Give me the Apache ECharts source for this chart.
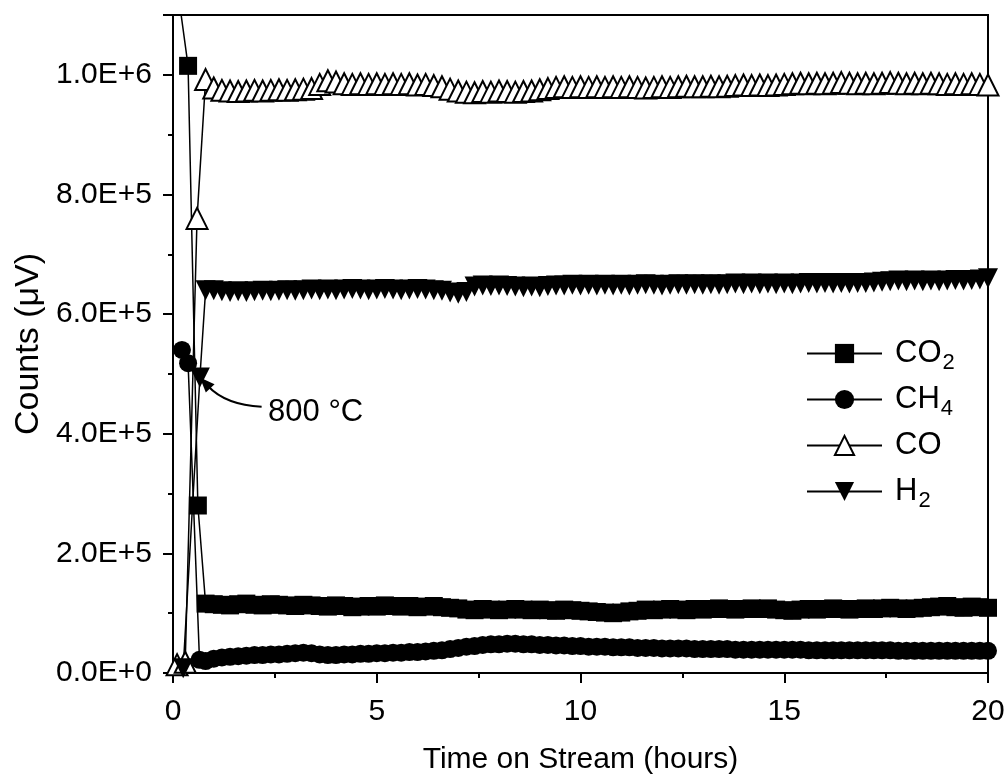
<!DOCTYPE html>
<html><head><meta charset="utf-8">
<script src="https://cdn.jsdelivr.net/npm/echarts@6/dist/echarts.min.js"></script>
<style>html,body{margin:0;padding:0;background:#fff}#c{width:1006px;height:780px}</style>
</head><body><div id="c"></div>
<script>
// ---- data (counts in thousands of µV) ----
const seriesNames = ['CO2', 'CH4', 'CO', 'H2'];
const xAxisTitle = 'Time on Stream (hours)';
const yAxisTitle = 'Counts (\u03bcV)';
const annoText = '800 \u00b0C';
const annoAt = [3.5, 435];
const arrowTip = [0.66, 494];

const tPlateau = [1.0,1.2,1.4,1.6,1.8,2.0,2.2,2.4,2.6,2.8,3.0,3.2,3.4,3.6,3.8,4.0,4.2,4.4,4.6,4.8,
  5.0,5.2,5.4,5.6,5.8,6.0,6.2,6.4,6.6,6.8,7.0,7.2,7.4,7.6,7.8,8.0,8.2,8.4,8.6,8.8,
  9.0,9.2,9.4,9.6,9.8,10.0,10.2,10.4,10.6,10.8,11.0,11.2,11.4,11.6,11.8,12.0,12.2,12.4,12.6,12.8,
  13.0,13.2,13.4,13.6,13.8,14.0,14.2,14.4,14.6,14.8,15.0,15.2,15.4,15.6,15.8,16.0,16.2,16.4,16.6,16.8,
  17.0,17.2,17.4,17.6,17.8,18.0,18.2,18.4,18.6,18.8,19.0,19.2,19.4,19.6,19.8,20.0];

const co2EarlyT = [0.0, 0.37, 0.61, 0.8];
const co2EarlyV = [1200, 1015, 280, 116];
const co2Plateau = [115,114,113,115,116,114,113,115,114,113,
  112,114,113,112,111,113,112,110,111,112,
  111,113,112,111,112,110,111,112,110,109,
  108,106,105,107,106,105,106,107,106,105,
  106,105,104,106,105,104,103,102,101,100,
  101,103,104,106,105,106,107,106,105,107,
  106,107,108,107,106,107,108,107,108,106,
  105,104,106,107,106,107,108,107,106,107,
  108,107,108,109,108,107,108,109,110,111,
  112,110,109,111,110,109];

const ch4EarlyT = [0.22, 0.37, 0.65, 0.8];
const ch4EarlyV = [540, 518, 22, 20];
const ch4Plateau = [24,26,27,28,29,30,30,31,31,32,
  33,34,33,31,30,30,31,31,32,32,
  33,33,34,34,35,35,36,37,38,40,
  42,44,45,47,48,48,49,49,48,48,
  47,47,46,46,45,45,44,44,44,43,
  43,43,42,42,42,41,41,41,41,40,
  40,40,40,40,39,39,39,39,39,39,
  39,39,39,38,38,38,38,38,38,38,
  38,38,38,38,37,37,37,37,37,37,
  37,37,37,37,37,37];

const coEarlyT = [0.1, 0.3, 0.59, 0.8];
const coEarlyV = [14, 18, 760, 992];
const coPlateau = [978,974,973,972,973,974,973,974,975,974,
  975,976,977,984,990,988,985,984,985,984,
  985,984,985,984,985,983,984,982,980,976,
  973,971,970,972,971,973,972,971,972,973,
  975,977,979,980,979,980,979,980,979,980,
  979,980,979,978,979,980,979,980,981,980,
  980,981,980,981,982,983,982,983,982,983,
  984,985,986,985,986,985,986,987,986,985,
  986,985,986,987,986,985,986,985,986,985,
  984,985,984,985,984,983];

const h2EarlyT = [0.25, 0.66, 0.8];
const h2EarlyV = [8, 494, 640];
const h2Plateau = [640,638,637,638,637,638,639,638,639,640,
  639,640,641,640,641,640,641,642,641,640,
  641,642,641,640,641,642,641,640,639,636,
  634,637,646,648,647,648,647,646,645,646,
  645,647,648,648,649,648,649,648,649,648,
  649,648,649,650,649,648,649,650,649,650,
  649,650,649,650,651,650,651,650,651,650,
  651,650,651,652,651,652,651,652,651,652,
  652,653,654,655,656,655,656,655,656,655,
  656,657,656,657,658,660];

function pairs(tE, vE, tP, vP) {
  return tE.map((t, i) => [t, vE[i]]).concat(tP.map((t, i) => [t, vP[i]]));
}

const FONT = "'Liberation Sans', Arial, sans-serif";
const chart = echarts.init(document.getElementById('c'), null, {renderer: 'canvas'});

const subFmt = {CO2: '{n|CO}{s|2}', CH4: '{n|CH}{s|4}', CO: '{n|CO}{s|\u00a0}', H2: '{n|H}{s|2}'};

const lineBase = {type: 'line', clip: true, lineStyle: {color: '#000', width: 1.5}, emphasis: {disabled: true}};

chart.setOption({
  animation: false,
  backgroundColor: '#fff',
  grid: {left: 173, right: 18, top: 15, bottom: 107, outerBoundsMode: 'none', show: true, borderColor: '#000', borderWidth: 2, backgroundColor: 'transparent'},
  xAxis: {
    type: 'value', min: 0, max: 20, interval: 5,
    axisLine: {show: true, lineStyle: {color: '#000', width: 2}},
    axisTick: {show: true, inside: false, length: 10, lineStyle: {color: '#000', width: 2}},
    minorTick: {show: true, splitNumber: 2, length: 5, lineStyle: {color: '#000', width: 2}},
    splitLine: {show: false},
    axisLabel: {color: '#000', fontSize: 30, lineHeight: 30, fontFamily: FONT, margin: 24},
    name: xAxisTitle, nameLocation: 'middle', nameGap: 72,
    nameTextStyle: {color: '#000', fontSize: 30, lineHeight: 30, fontFamily: FONT}
  },
  yAxis: {
    type: 'value', min: 0, max: 1100, interval: 200,
    axisLine: {show: true, lineStyle: {color: '#000', width: 2}},
    axisTick: {show: true, inside: false, length: 10, lineStyle: {color: '#000', width: 2}},
    minorTick: {show: true, splitNumber: 2, length: 5, lineStyle: {color: '#000', width: 2}},
    splitLine: {show: false},
    axisLabel: {color: '#000', fontSize: 30, fontFamily: FONT, margin: 21,
      formatter: v => v > 1000 ? '' : (v * 1000).toExponential(1).toUpperCase()},
    name: yAxisTitle, nameLocation: 'middle', nameGap: 124,
    nameTextStyle: {color: '#000', fontSize: 34, fontFamily: FONT}
  },
  legend: {
    orient: 'vertical', left: 806, top: 338, padding: 0, itemWidth: 75, itemHeight: 24, itemGap: 10,
    data: seriesNames,
    formatter: name => subFmt[name],
    textStyle: {color: '#000', fontFamily: FONT,
      rich: {
        n: {fontSize: 31, fontFamily: FONT, color: '#000', lineHeight: 31, verticalAlign: 'top', padding: [0, 0, 0, 8]},
        s: {fontSize: 22, fontFamily: FONT, color: '#000', lineHeight: 22, verticalAlign: 'top', padding: [14, 0, 0, 1]}
      }}
  },
  series: [
    Object.assign({}, lineBase, {name: 'CO2', data: pairs(co2EarlyT, co2EarlyV, tPlateau, co2Plateau),
      symbol: 'rect', symbolSize: 18, itemStyle: {color: '#000'}}),
    Object.assign({}, lineBase, {name: 'CH4', data: pairs(ch4EarlyT, ch4EarlyV, tPlateau, ch4Plateau),
      symbol: 'circle', symbolSize: 18, itemStyle: {color: '#000'}}),
    Object.assign({}, lineBase, {name: 'CO', data: pairs(coEarlyT, coEarlyV, tPlateau, coPlateau),
      symbol: 'triangle', symbolSize: 21, itemStyle: {color: '#fff', borderColor: '#000', borderWidth: 2}}),
    Object.assign({}, lineBase, {name: 'H2', data: pairs(h2EarlyT, h2EarlyV, tPlateau, h2Plateau),
      symbol: 'triangle', symbolRotate: 180, symbolSize: 20, itemStyle: {color: '#000'}})
  ]
});

// annotation: text and curved arrow, positioned from data coordinates
const tip = chart.convertToPixel({gridIndex: 0}, arrowTip);
const lab = chart.convertToPixel({gridIndex: 0}, annoAt);
const start = [lab[0] - 54, lab[1] - 6];
const cp = [lab[0] - 90, lab[1] - 8];
let dx = tip[0] - cp[0], dy = tip[1] - cp[1];
const len = Math.hypot(dx, dy); dx /= len; dy /= len;
const L = 15, W = 6;
const base = [tip[0] - dx * L, tip[1] - dy * L];
const nx = -dy, ny = dx;
chart.setOption({
  graphic: [
    {type: 'text', x: lab[0], y: lab[1], style: {text: annoText, fill: '#000', fontSize: 31, fontFamily: FONT, align: 'center', verticalAlign: 'middle'}},
    {type: 'bezierCurve', shape: {x1: start[0], y1: start[1], x2: base[0] + dx * 3, y2: base[1] + dy * 3, cpx1: cp[0], cpy1: cp[1]},
      style: {stroke: '#000', lineWidth: 2, fill: null}},
    {type: 'polygon', shape: {points: [tip, [base[0] + nx * W, base[1] + ny * W], [base[0] - nx * W, base[1] - ny * W]]},
      style: {fill: '#000'}}
  ]
});
</script></body></html>
